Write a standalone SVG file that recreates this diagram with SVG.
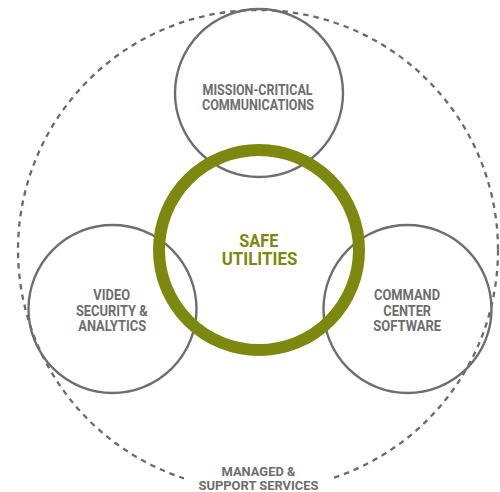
<svg xmlns="http://www.w3.org/2000/svg" width="500" height="492" viewBox="0 0 500 492">
<style>
.svc{fill:none;stroke:#6e6e6e;stroke-width:2.4}
.lbl{font-family:Roboto,"Liberation Sans",sans-serif;font-weight:bold;font-size:14px;fill:#6d6d6d;text-anchor:middle}
.core{font-family:Roboto,"Liberation Sans",sans-serif;font-weight:bold;font-size:17.5px;fill:#7c880e;text-anchor:middle}
</style>
<rect width="500" height="492" fill="#ffffff"/>
<g id="managed-services">
<circle cx="258" cy="250" r="240" fill="none" stroke="#6a6a6a" stroke-width="2.3" stroke-dasharray="5.5 5"/>
<rect x="184" y="462" width="150" height="30" fill="#ffffff"/>
<text class="lbl" style="font-size:12.8px"><tspan x="258.5" y="475.6" textLength="74" lengthAdjust="spacingAndGlyphs">MANAGED &amp;</tspan><tspan x="258.5" y="489.9" textLength="120" lengthAdjust="spacingAndGlyphs">SUPPORT SERVICES</tspan></text>
</g>
<g id="mission-critical">
<circle class="svc" cx="259" cy="93" r="84"/>
<text class="lbl"><tspan x="257.5" y="95" textLength="110" lengthAdjust="spacingAndGlyphs">MISSION-CRITICAL</tspan><tspan x="258" y="109.7" textLength="112" lengthAdjust="spacingAndGlyphs">COMMUNICATIONS</tspan></text>
</g>
<g id="video-security">
<circle class="svc" cx="112.5" cy="309" r="84"/>
<text class="lbl"><tspan x="111.7" y="300" textLength="36.7" lengthAdjust="spacingAndGlyphs">VIDEO</tspan><tspan x="111.8" y="315.7" textLength="71.7" lengthAdjust="spacingAndGlyphs">SECURITY &amp;</tspan><tspan x="112.2" y="331" textLength="67.7" lengthAdjust="spacingAndGlyphs">ANALYTICS</tspan></text>
</g>
<g id="command-center">
<circle class="svc" cx="407.5" cy="309" r="84"/>
<text class="lbl"><tspan x="407" y="300" textLength="66" lengthAdjust="spacingAndGlyphs">COMMAND</tspan><tspan x="407.2" y="315.7" textLength="47.7" lengthAdjust="spacingAndGlyphs">CENTER</tspan><tspan x="407.2" y="331" textLength="67.7" lengthAdjust="spacingAndGlyphs">SOFTWARE</tspan></text>
</g>
<g id="safe-utilities">
<circle cx="259" cy="250" r="100" fill="none" stroke="#7c880e" stroke-width="12"/>
<text class="core"><tspan x="258.8" y="246.7" textLength="39" lengthAdjust="spacingAndGlyphs">SAFE</tspan><tspan x="259.5" y="265" textLength="75.6" lengthAdjust="spacingAndGlyphs">UTILITIES</tspan></text>
</g>
<g id="connectors"></g>
</svg>
